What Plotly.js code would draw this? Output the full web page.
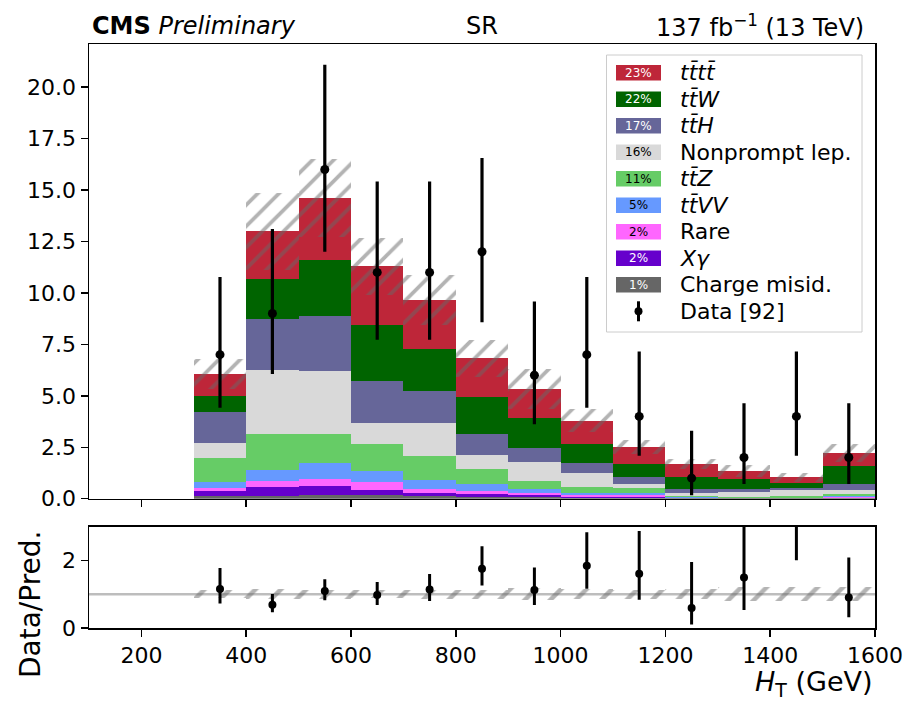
<!DOCTYPE html>
<html>
<head>
<meta charset="utf-8">
<script src="https://cdn.plot.ly/plotly-3.0.1.min.js"></script>
<style>html,body{margin:0;padding:0;background:#fff;}</style>
</head>
<body>
<div id="chart" style="width:905px;height:703px;"></div>
<script>
// H_T bins (GeV): centres of 100 GeV wide bins from 300 to 1600
const binCentres = [350, 450, 550, 650, 750, 850, 950, 1050, 1150, 1250, 1350, 1450, 1550];
const binWidth = 100;

// Expected yields per process, stack order (bottom first)
const chargeMisid = [0.11, 0.15, 0.19, 0.16, 0.13, 0.10, 0.10, 0.04, 0.04, 0.01, 0.01, 0.01, 0.02];
const xGamma      = [0.28, 0.43, 0.43, 0.26, 0.13, 0.13, 0.06, 0.06, 0.05, 0.01, 0.01, 0.01, 0.03];
const rare        = [0.11, 0.30, 0.35, 0.37, 0.19, 0.13, 0.10, 0.08, 0.07, 0.02, 0.01, 0.01, 0.03];
const ttVV        = [0.31, 0.52, 0.75, 0.56, 0.46, 0.37, 0.20, 0.08, 0.10, 0.02, 0.02, 0.02, 0.04];
const ttZ         = [1.15, 1.75, 1.41, 1.31, 1.18, 0.71, 0.42, 0.31, 0.26, 0.06, 0.02, 0.07, 0.09];
const nonprompt   = [0.73, 3.09, 3.07, 1.00, 1.61, 0.70, 0.92, 0.69, 0.19, 0.14, 0.26, 0.30, 0.21];
const ttH         = [1.51, 2.47, 2.66, 2.05, 1.52, 1.01, 0.65, 0.49, 0.33, 0.22, 0.14, 0.10, 0.29];
const ttW         = [0.81, 1.98, 2.75, 2.74, 2.06, 1.81, 1.48, 0.93, 0.65, 0.56, 0.47, 0.26, 0.89];
const tttt        = [1.06, 2.32, 2.99, 2.84, 2.36, 1.87, 1.41, 1.12, 0.80, 0.65, 0.40, 0.26, 0.62];

// Total uncertainty on the prediction (absolute, per bin)
const predUnc = [0.73, 1.87, 1.90, 1.40, 1.22, 0.90, 0.97, 0.56, 0.34, 0.24, 0.28, 0.22, 0.45];

// Observed events and their 68% Poisson intervals
const dataCounts = [7, 9, 16, 11, 11, 12, 6, 7, 4, 1, 2, 4, 2];
const dataLow    = [4.42, 6.06, 12.00, 7.73, 7.73, 8.58, 3.62, 4.42, 2.09, 0.17, 0.71, 2.09, 0.71];
const dataHigh   = [10.77, 13.11, 21.09, 15.42, 15.42, 16.56, 9.58, 10.77, 7.16, 3.30, 4.64, 7.16, 4.64];

const processNames  = ['Charge misid.', '<i>X\u03b3</i>', 'Rare', '<i>tt\u0304VV</i>', '<i>tt\u0304Z</i>',
                       'Nonprompt lep.', '<i>tt\u0304H</i>', '<i>tt\u0304W</i>', '<i>tt\u0304tt\u0304</i>'];
const processShares = ['1%', '2%', '2%', '5%', '11%', '16%', '17%', '22%', '23%'];
const processColors = ['#666666', '#6600cc', '#ff66ff', '#6699ff', '#66cc66',
                       '#d9d9d9', '#666699', '#006400', '#be2639'];
const shareTextColors = ['#ffffff', '#ffffff', '#000000', '#000000', '#000000',
                         '#000000', '#ffffff', '#ffffff', '#ffffff'];
const processYields = [chargeMisid, xGamma, rare, ttVV, ttZ, nonprompt, ttH, ttW, tttt];

const FONT = 'DejaVu Sans, Liberation Sans, sans-serif';
const traces = [];

// Stacked prediction, built bottom-up with explicit bases
let running = binCentres.map(() => 0);
processYields.forEach((vals, i) => {
  traces.push({
    type: 'bar', x: binCentres, y: vals, base: running.slice(), width: binWidth,
    marker: {color: processColors[i], line: {width: 0}},
    xaxis: 'x', yaxis: 'y', showlegend: false, hoverinfo: 'skip'
  });
  running = running.map((v, j) => v + vals[j]);
});
const total = running;

// Hatched uncertainty band on the total prediction
traces.push({
  type: 'bar', x: binCentres, y: predUnc.map(u => 2 * u),
  base: total.map((t, j) => t - predUnc[j]), width: binWidth,
  marker: {color: 'rgba(0,0,0,0)', line: {width: 0},
           pattern: {shape: '/', fgcolor: '#686868', bgcolor: 'rgba(0,0,0,0)',
                     size: 15, solidity: 0.25, fillmode: 'overlay'}},
  xaxis: 'x', yaxis: 'y', showlegend: false, hoverinfo: 'skip'
});

// Observed data
traces.push({
  type: 'scatter', mode: 'markers', x: binCentres, y: dataCounts,
  marker: {color: 'black', size: 9},
  error_y: {type: 'data', symmetric: false,
            array: dataHigh.map((h, j) => h - dataCounts[j]),
            arrayminus: dataCounts.map((d, j) => d - dataLow[j]),
            thickness: 3.2, width: 0, color: 'black'},
  xaxis: 'x', yaxis: 'y', showlegend: false, hoverinfo: 'skip'
});

// Ratio panel: relative uncertainty band and data / prediction
const relUnc = predUnc.map((u, j) => u / total[j]);
traces.push({
  type: 'bar', x: binCentres, y: relUnc.map(r => 2 * r),
  base: relUnc.map(r => 1 - r), width: binWidth,
  marker: {color: 'rgba(0,0,0,0)', line: {width: 0},
           pattern: {shape: '/', fgcolor: '#686868', bgcolor: 'rgba(0,0,0,0)',
                     size: 18, solidity: 0.25, fillmode: 'overlay'}},
  xaxis: 'x2', yaxis: 'y2', showlegend: false, hoverinfo: 'skip'
});
const ratio = dataCounts.map((d, j) => d / total[j]);
traces.push({
  type: 'scatter', mode: 'markers', x: binCentres, y: ratio,
  marker: {color: 'black', size: 8},
  error_y: {type: 'data', symmetric: false,
            array: dataHigh.map((h, j) => h / total[j] - ratio[j]),
            arrayminus: dataLow.map((l, j) => ratio[j] - l / total[j]),
            thickness: 3, width: 0, color: 'black'},
  xaxis: 'x2', yaxis: 'y2', showlegend: false, hoverinfo: 'skip'
});

// Pixel helpers for the hand-drawn legend (plot area: x 89..875, y 44..628)
const L = 89, R = 30, T = 44, B = 75, W = 905, H = 703;
const pw = W - L - R, ph = H - T - B;
const px = v => (v - L) / pw;
const py = v => (H - B - v) / ph;

const shapes = [
  // reference line at ratio = 1
  {type: 'line', xref: 'x2 domain', yref: 'y2', x0: 0, x1: 1, y0: 1, y1: 1,
   line: {color: '#bdbdbd', width: 2.5}, layer: 'below'},
  // legend frame
  {type: 'rect', xref: 'paper', yref: 'paper', x0: px(606.5), x1: px(862), y0: py(332), y1: py(55),
   line: {color: '#cccccc', width: 1}, fillcolor: 'rgba(255,255,255,0.8)'}
];
const annotations = [];

const rowTop = 72.8, rowStep = 26.5;
for (let k = 0; k < processNames.length; k++) {
  const i = processNames.length - 1 - k;      // legend lists the top of the stack first
  const yc = rowTop + k * rowStep;
  shapes.push({type: 'rect', xref: 'paper', yref: 'paper',
               x0: px(616), x1: px(661), y0: py(yc + 7.8), y1: py(yc - 7.8),
               line: {width: 0}, fillcolor: processColors[i]});
  annotations.push({xref: 'paper', yref: 'paper', x: px(638.5), y: py(yc), text: processShares[i],
                    showarrow: false, xanchor: 'center', yanchor: 'middle',
                    font: {family: FONT, size: 12, color: shareTextColors[i]}});
  annotations.push({xref: 'paper', yref: 'paper', x: px(678), y: py(yc), text: processNames[i],
                    showarrow: false, xanchor: 'left', yanchor: 'middle',
                    font: {family: FONT, size: 22, color: 'black'}});
}
// data entry in the legend
const yData = rowTop + processNames.length * rowStep;
shapes.push({type: 'line', xref: 'paper', yref: 'paper', x0: px(638.5), x1: px(638.5),
             y0: py(yData + 10), y1: py(yData - 10), line: {color: 'black', width: 3}});
shapes.push({type: 'circle', xref: 'paper', yref: 'paper', x0: px(634.5), x1: px(642.5),
             y0: py(yData + 4), y1: py(yData - 4), line: {width: 0}, fillcolor: 'black'});
annotations.push({xref: 'paper', yref: 'paper', x: px(678), y: py(yData), text: 'Data [92]',
                  showarrow: false, xanchor: 'left', yanchor: 'middle',
                  font: {family: FONT, size: 22, color: 'black'}});

// header and axis labels
annotations.push({xref: 'paper', yref: 'paper', x: px(90), y: py(26), text: '<b>CMS</b> <i>Preliminary</i>',
                  showarrow: false, xanchor: 'left', yanchor: 'middle', font: {family: FONT, size: 24, color: 'black'}});
annotations.push({xref: 'paper', yref: 'paper', x: px(482), y: py(26), text: 'SR',
                  showarrow: false, xanchor: 'center', yanchor: 'middle', font: {family: FONT, size: 24, color: 'black'}});
annotations.push({xref: 'paper', yref: 'paper', x: px(866), y: py(26), text: '137 fb<sup>\u22121</sup> (13 TeV)',
                  showarrow: false, xanchor: 'right', yanchor: 'middle', font: {family: FONT, size: 24, color: 'black'}});
annotations.push({xref: 'paper', yref: 'paper', x: 1, y: py(683), text: '<i>H</i><sub>T</sub> (GeV)',
                  showarrow: false, xanchor: 'right', yanchor: 'middle', font: {family: FONT, size: 27, color: 'black'}});
annotations.push({xref: 'paper', yref: 'paper', x: px(30), y: py(604), text: 'Data/Pred.', textangle: -90,
                  showarrow: false, xanchor: 'center', yanchor: 'middle', font: {family: FONT, size: 28, color: 'black'}});

const axisCommon = {
  showline: true, mirror: true, linecolor: 'black', linewidth: 1.5,
  ticks: 'outside', ticklen: 7, tickwidth: 1.5, tickcolor: 'black',
  showgrid: false, zeroline: false,
  tickfont: {family: FONT, size: 22, color: 'black'}
};

const layout = {
  width: W, height: H,
  margin: {l: L, r: R, t: T, b: B},
  paper_bgcolor: 'white', plot_bgcolor: 'white',
  barmode: 'overlay', bargap: 0,
  showlegend: false,
  xaxis: Object.assign({}, axisCommon, {domain: [0, 1], anchor: 'y', range: [100, 1600],
         tick0: 0, dtick: 200, showticklabels: false, matches: 'x2'}),
  yaxis: Object.assign({}, axisCommon, {domain: [py(498.7), 1], anchor: 'x', range: [0, 22.1],
         tick0: 0, dtick: 2.5, tickformat: '.1f'}),
  xaxis2: Object.assign({}, axisCommon, {domain: [0, 1], anchor: 'y2', range: [100, 1600],
         tick0: 0, dtick: 200}),
  yaxis2: Object.assign({}, axisCommon, {domain: [0, py(526.7)], anchor: 'x2', range: [0, 3],
         tick0: 0, dtick: 2}),
  shapes: shapes,
  annotations: annotations
};

Plotly.newPlot('chart', traces, layout, {staticPlot: true, displayModeBar: false});
</script>
</body>
</html>
